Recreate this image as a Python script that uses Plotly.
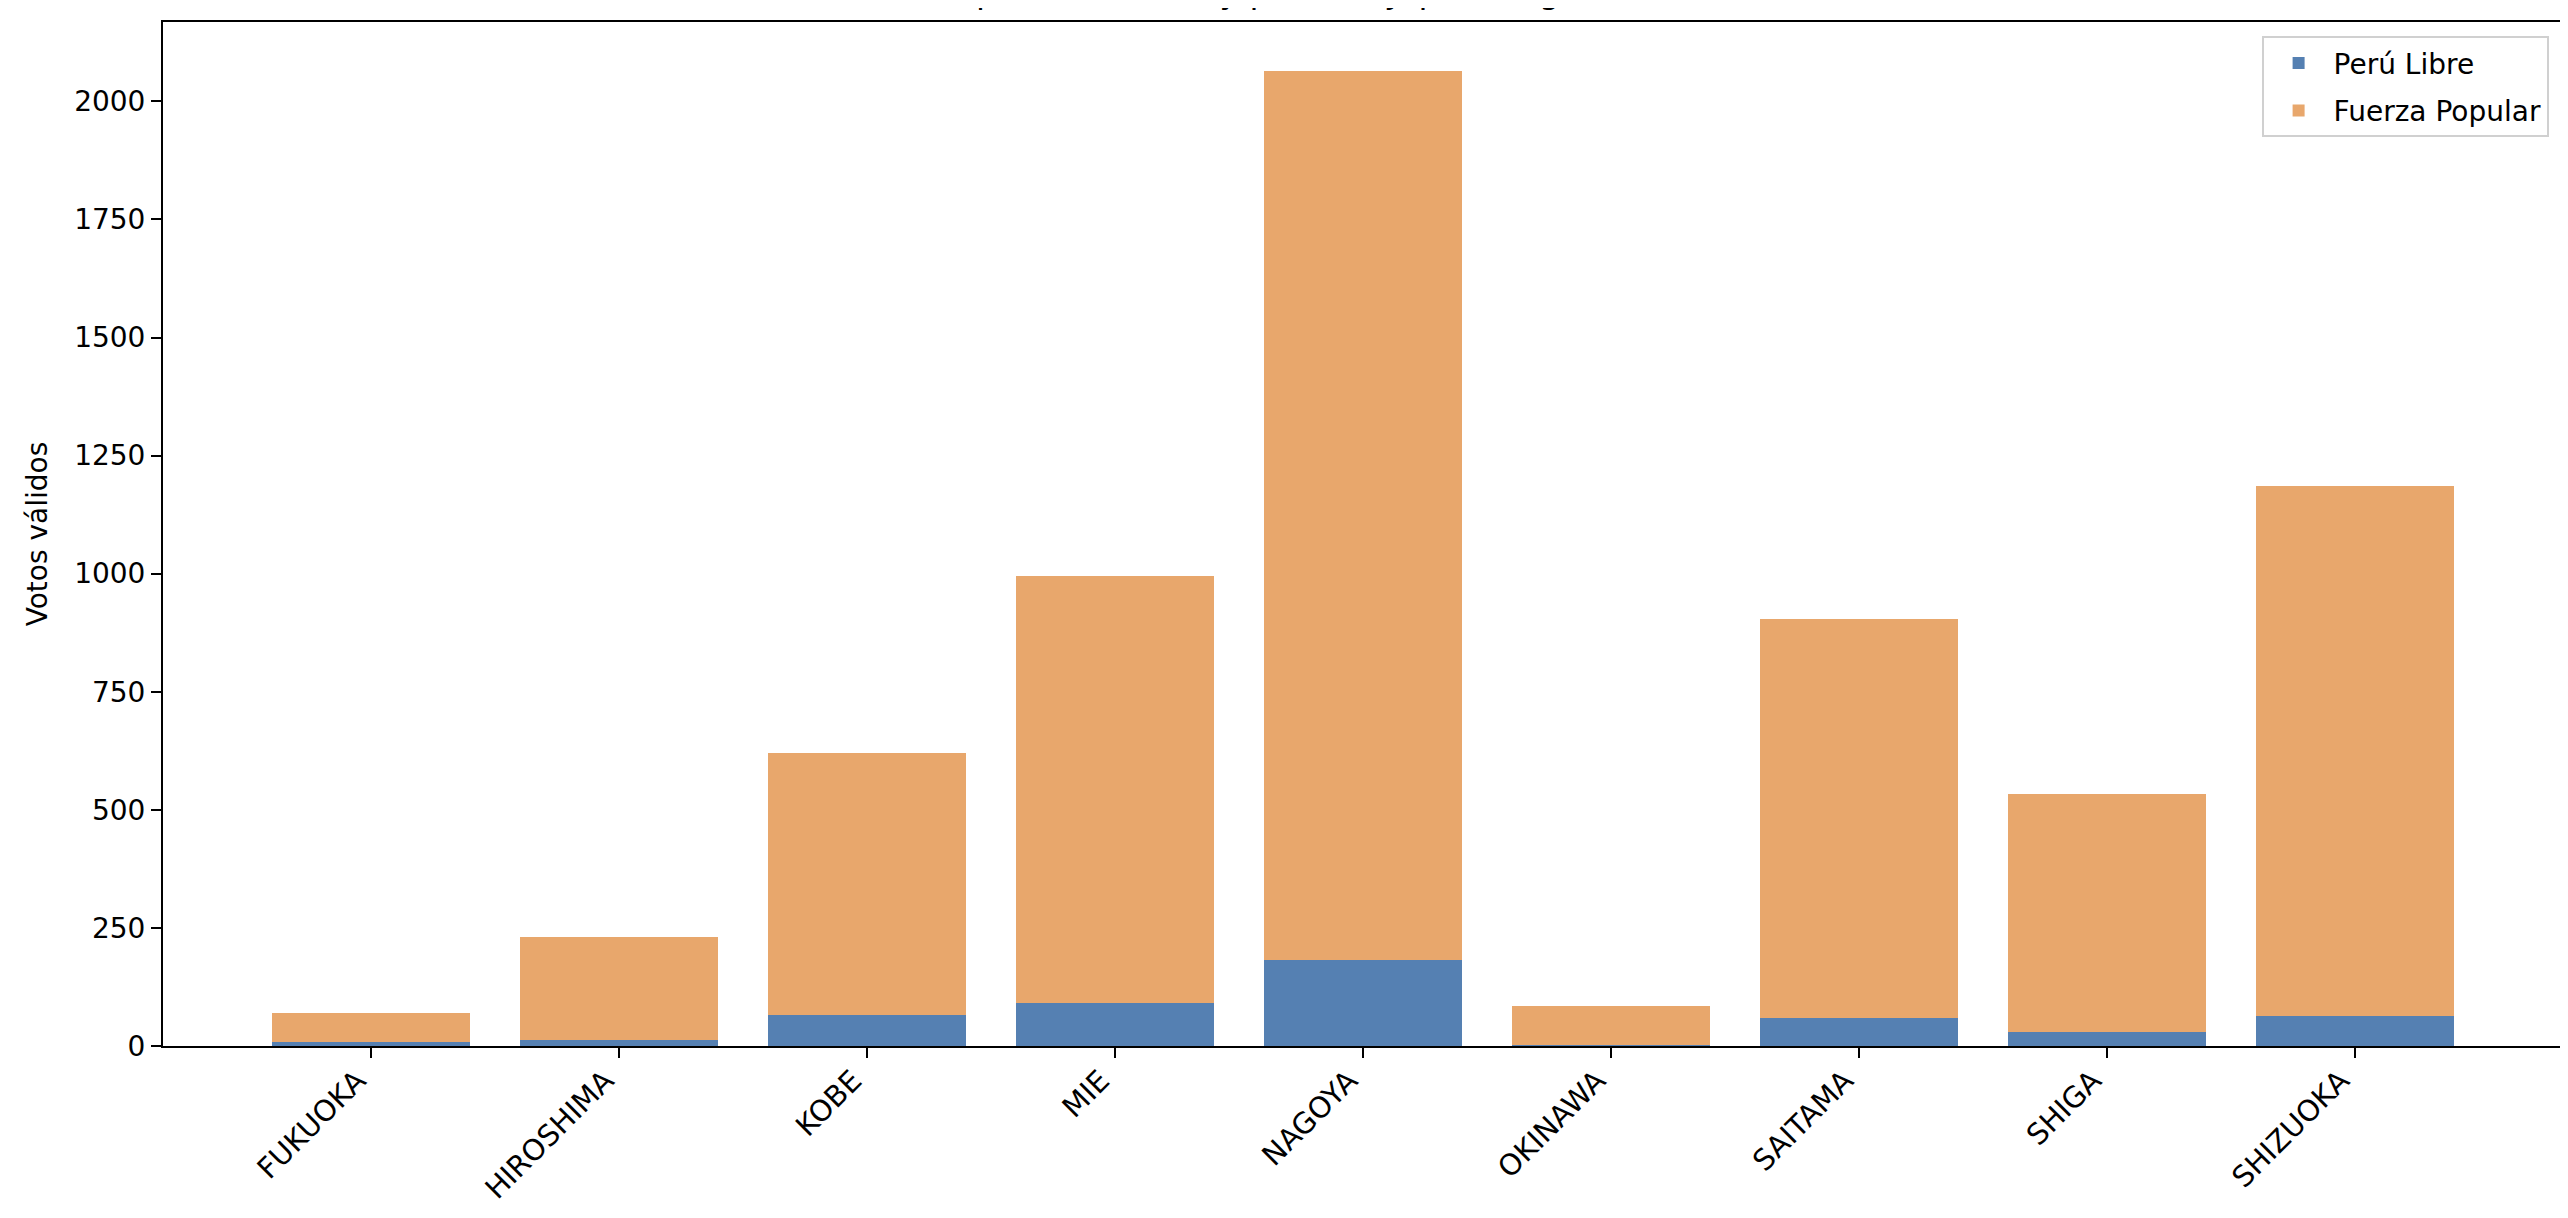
import plotly.graph_objects as go

# --- DATA ---
consulados = ["FUKUOKA", "HIROSHIMA", "KOBE", "MIE", "NAGOYA",
              "OKINAWA", "SAITAMA", "SHIGA", "SHIZUOKA"]
peru_libre = [9, 13, 66, 91, 182, 2, 59, 29, 63]
fuerza_popular = [61, 218, 554, 905, 1882, 82, 846, 505, 1122]

y_ticks = [0, 250, 500, 750, 1000, 1250, 1500, 1750, 2000]

TITLE = "Votos por consulado y partido, Japón, segunda vuelta 2021"

BLUE = "#5580b2"
ORANGE = "#e8a76c"
FONT = "DejaVu Sans"


def main():
    fig = go.Figure()

    fig.add_trace(go.Bar(
        x=consulados, y=peru_libre, name="Perú Libre", legendgroup="pl",
        marker=dict(color=BLUE, line=dict(width=0)),
    ))
    fig.add_trace(go.Bar(
        x=consulados, y=fuerza_popular, name="Fuerza Popular", legendgroup="fp",
        marker=dict(color=ORANGE, line=dict(width=0)),
    ))

    # title sits mostly above the visible page, like the cropped original
    fig.add_annotation(
        text=TITLE, xref="paper", yref="paper", x=0.5, y=1.0085,
        xanchor="center", yanchor="bottom", showarrow=False,
        font=dict(family=FONT, size=33, color="black"),
    )

    fig.update_layout(
        width=2568, height=1218, autosize=False,
        barmode="stack", bargap=0.2,
        paper_bgcolor="white", plot_bgcolor="white",
        margin=dict(l=155, r=11, t=14, b=180),
        font=dict(family=FONT, size=28, color="black"),
        legend=dict(
            x=0.994, y=0.986, xanchor="right", yanchor="top",
            bgcolor="rgba(255,255,255,0.8)", bordercolor="#d0d0d0", borderwidth=2,
            font=dict(family=FONT, size=28, color="black"),
            traceorder="grouped", tracegroupgap=8, itemwidth=60,
        ),
        showlegend=True,
    )

    fig.update_xaxes(
        range=[-0.84, 8.84], tickangle=-45,
        showline=True, linecolor="black", linewidth=2, mirror=True,
        ticks="outside", ticklen=10, tickwidth=2, tickcolor="black",
        showgrid=False, zeroline=False,
        ticklabelshift=-14, ticklabelstandoff=-6,
        tickfont=dict(family=FONT, size=29, color="black"),
    )
    fig.update_yaxes(
        range=[0, 2168], tickvals=y_ticks,
        showline=True, linecolor="black", linewidth=2, mirror=True,
        ticks="outside", ticklen=10, tickwidth=2, tickcolor="black",
        showgrid=False, zeroline=False,
        tickfont=dict(family=FONT, size=28, color="black"),
        title=dict(text="Votos válidos", standoff=18,
                   font=dict(family=FONT, size=28, color="black")),
    )

    fig.write_html("out.html")


if __name__ == "__main__":
    main()
